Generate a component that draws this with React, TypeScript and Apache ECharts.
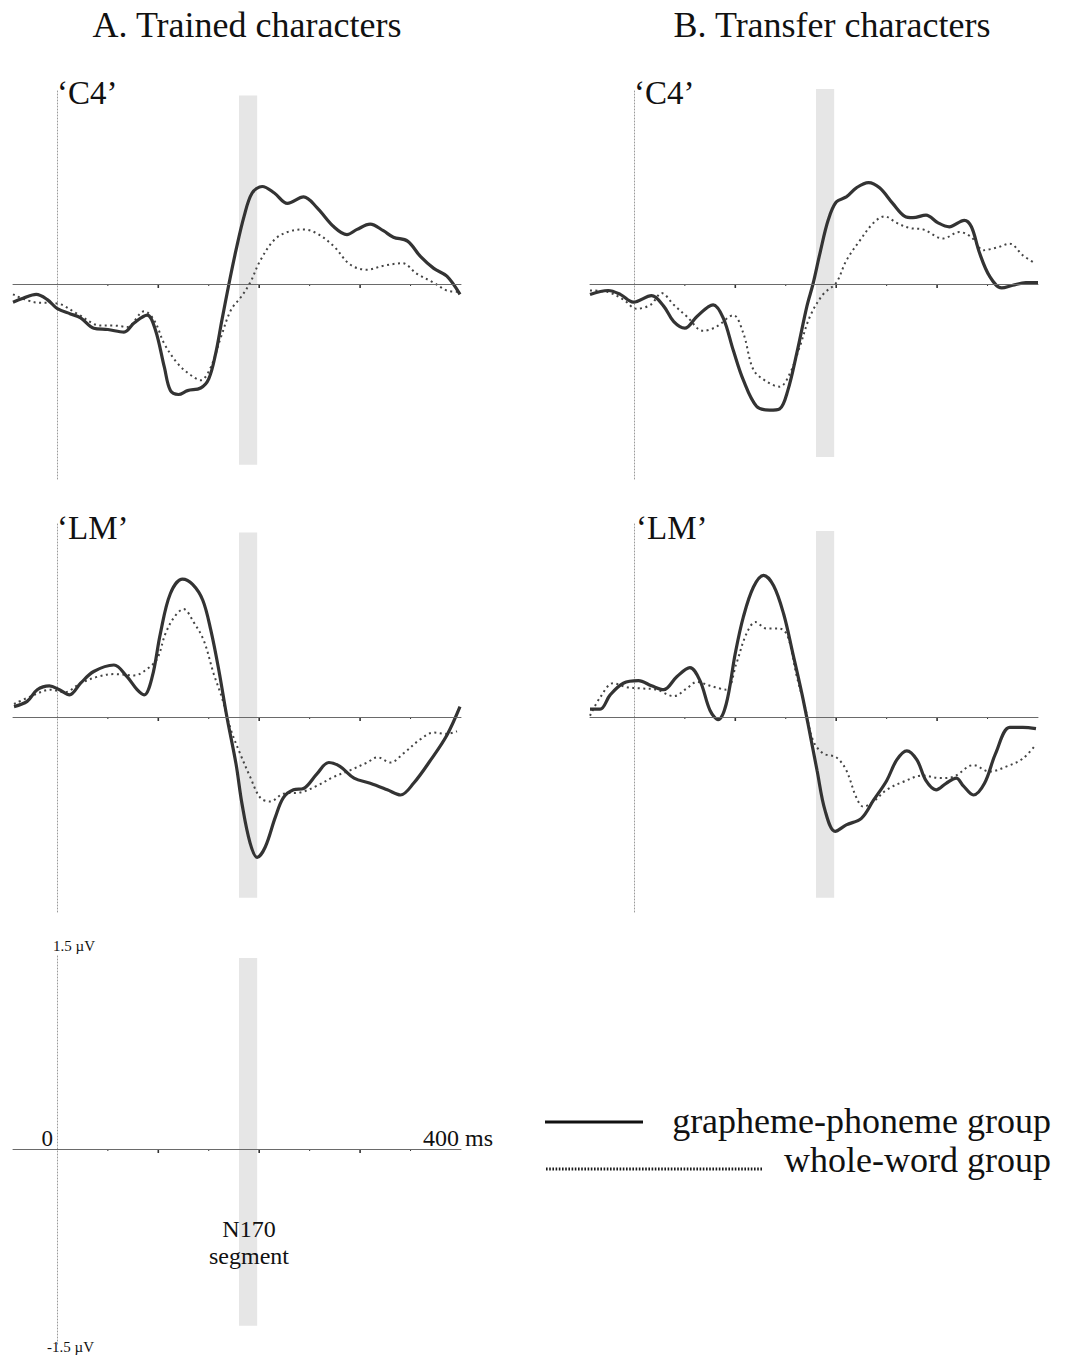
import React, { useEffect, useRef } from "react";
import * as echarts from "echarts";

// ---- data (time in ms, amplitude in µV) ----
const c4TrainedGraphemePhoneme: [number, number][] = [
  [-44, -0.14], [-34, -0.11], [-21, -0.08], [-10, -0.12], [0, -0.19], [13, -0.23], [23, -0.26], [36, -0.34],
  [50, -0.35], [66, -0.37], [76, -0.3], [89, -0.24], [97, -0.35], [106, -0.64], [112, -0.82], [120, -0.85],
  [129, -0.82], [142, -0.8], [150, -0.73], [157, -0.53], [163, -0.28], [170, 0], [177, 0.26], [185, 0.52],
  [193, 0.7], [203, 0.75], [215, 0.7], [228, 0.62], [244, 0.67], [257, 0.59], [274, 0.44], [287, 0.38],
  [297, 0.42], [310, 0.46], [323, 0.41], [333, 0.36], [347, 0.33], [360, 0.21], [373, 0.12], [386, 0.06], [399, -0.08],
];
const c4TrainedWholeWord: [number, number][] = [
  [-44, -0.08], [-23, -0.14], [0, -0.15], [20, -0.23], [43, -0.32], [56, -0.32], [69, -0.33], [86, -0.21],
  [96, -0.28], [106, -0.46], [119, -0.61], [132, -0.7], [142, -0.74], [152, -0.64], [162, -0.41], [172, -0.2],
  [182, -0.1], [191, 0.01], [201, 0.18], [215, 0.34], [228, 0.4], [244, 0.42], [257, 0.39], [274, 0.29],
  [290, 0.15], [307, 0.11], [323, 0.14], [342, 0.16], [356, 0.08], [373, 0.01], [386, -0.05], [398, -0.06],
];
const c4TransferGraphemePhoneme: [number, number][] = [
  [-44, -0.08], [-26, -0.05], [-14, -0.08], [-1, -0.14], [17, -0.09], [29, -0.17], [39, -0.29], [50, -0.34],
  [62, -0.25], [78, -0.16], [88, -0.26], [98, -0.51], [108, -0.74], [121, -0.94], [134, -0.97], [144, -0.96],
  [152, -0.82], [161, -0.53], [171, -0.17], [177, 0], [184, 0.24], [192, 0.49], [200, 0.63], [210, 0.67],
  [220, 0.74], [232, 0.78], [243, 0.74], [256, 0.62], [268, 0.52], [276, 0.51], [289, 0.53], [301, 0.47],
  [312, 0.44], [327, 0.49], [334, 0.44], [342, 0.24], [352, 0.06], [364, -0.03], [375, -0.01], [388, 0.01], [400, 0.01],
];
const c4TransferWholeWord: [number, number][] = [
  [-44, -0.05], [-27, -0.06], [-11, -0.12], [2, -0.19], [16, -0.16], [27, -0.07], [39, -0.16], [52, -0.25],
  [68, -0.36], [81, -0.33], [98, -0.24], [108, -0.38], [118, -0.66], [131, -0.75], [144, -0.79], [154, -0.69],
  [164, -0.48], [174, -0.25], [187, -0.08], [200, 0.01], [210, 0.18], [223, 0.33], [237, 0.47], [248, 0.52],
  [260, 0.47], [273, 0.43], [286, 0.42], [306, 0.35], [322, 0.4], [334, 0.36], [346, 0.26], [359, 0.28],
  [372, 0.31], [385, 0.22], [397, 0.16],
];
const lmTrainedGraphemePhoneme: [number, number][] = [
  [-43, 0.08], [-30, 0.12], [-20, 0.21], [-8, 0.24], [2, 0.21], [12, 0.17], [23, 0.26], [36, 0.35],
  [56, 0.4], [69, 0.31], [79, 0.21], [86, 0.17], [94, 0.31], [102, 0.64], [112, 0.95], [124, 1.06],
  [134, 1.02], [144, 0.9], [152, 0.67], [160, 0.36], [168, 0], [177, -0.36], [183, -0.67], [191, -0.97],
  [198, -1.08], [206, -1.0], [216, -0.77], [224, -0.62], [234, -0.56], [244, -0.55], [257, -0.44], [269, -0.35],
  [280, -0.38], [294, -0.47], [310, -0.51], [327, -0.56], [340, -0.6], [353, -0.51], [370, -0.33], [386, -0.14], [399, 0.08],
];
const lmTrainedWholeWord: [number, number][] = [
  [-43, 0.1], [-23, 0.17], [-7, 0.21], [7, 0.19], [23, 0.26], [40, 0.31], [56, 0.33], [76, 0.32],
  [89, 0.37], [99, 0.45], [107, 0.64], [116, 0.77], [125, 0.83], [135, 0.73], [145, 0.59], [155, 0.33],
  [163, 0.15], [172, -0.1], [181, -0.28], [191, -0.46], [201, -0.62], [211, -0.65], [224, -0.59], [241, -0.58],
  [257, -0.53], [274, -0.46], [290, -0.41], [307, -0.35], [317, -0.31], [330, -0.35], [343, -0.28], [360, -0.17],
  [373, -0.12], [386, -0.13], [396, -0.11],
];
const lmTransferGraphemePhoneme: [number, number][] = [
  [-44, 0.06], [-34, 0.06], [-24, 0.17], [-11, 0.26], [4, 0.28], [17, 0.24], [29, 0.21], [42, 0.31],
  [55, 0.38], [65, 0.28], [75, 0.05], [83, -0.02], [91, 0.1], [100, 0.49], [108, 0.77], [118, 1.0],
  [128, 1.09], [138, 1.01], [148, 0.79], [157, 0.49], [166, 0.18], [172, -0.05], [181, -0.41], [189, -0.72],
  [199, -0.88], [210, -0.83], [225, -0.78], [237, -0.64], [250, -0.49], [260, -0.33], [270, -0.26], [280, -0.33],
  [289, -0.49], [299, -0.56], [309, -0.51], [319, -0.47], [326, -0.53], [336, -0.6], [347, -0.51], [358, -0.28],
  [372, -0.08], [385, -0.08], [398, -0.09],
];
const lmTransferWholeWord: [number, number][] = [
  [-44, 0.01], [-34, 0.15], [-21, 0.26], [-8, 0.23], [6, 0.22], [22, 0.21], [39, 0.16], [52, 0.22],
  [62, 0.27], [75, 0.24], [91, 0.21], [101, 0.41], [111, 0.64], [120, 0.73], [131, 0.68], [144, 0.68],
  [152, 0.62], [161, 0.31], [169, 0.08], [177, -0.18], [187, -0.28], [200, -0.31], [210, -0.41], [220, -0.62],
  [227, -0.69], [237, -0.65], [250, -0.56], [266, -0.5], [286, -0.45], [303, -0.47], [316, -0.46], [336, -0.37],
  [352, -0.42], [369, -0.38], [385, -0.32], [398, -0.21],
];

const timeRange = [-44, 400];
const ampRange = [-1.5, 1.5];
const n170Segment = [180, 198];
const majorTicks = [100, 200, 300];
const minorTicks = [50, 150, 250, 350];
const panelLabels = ["\u2018C4\u2019", "\u2018C4\u2019", "\u2018LM\u2019", "\u2018LM\u2019"];
const columnTitles = ["A. Trained characters", "B. Transfer characters"];
const legendNames = ["grapheme-phoneme group", "whole-word group"];

const SERIF = "'Liberation Serif', 'Times New Roman', Times, serif";

type Panel = {
  left: number;
  top: number;
  bandTop: number;
  bandBottom: number;
  solid?: [number, number][];
  dotted?: [number, number][];
};

const panels: Panel[] = [
  { left: 13, top: 89, bandTop: 1.45, bandBottom: -1.39, solid: c4TrainedGraphemePhoneme, dotted: c4TrainedWholeWord },
  { left: 590, top: 89, bandTop: 1.51, bandBottom: -1.33, solid: c4TransferGraphemePhoneme, dotted: c4TransferWholeWord },
  { left: 13, top: 522, bandTop: 1.42, bandBottom: -1.39, solid: lmTrainedGraphemePhoneme, dotted: lmTrainedWholeWord },
  { left: 590, top: 522, bandTop: 1.43, bandBottom: -1.39, solid: lmTransferGraphemePhoneme, dotted: lmTransferWholeWord },
  { left: 13, top: 954, bandTop: 1.47, bandBottom: -1.36 },
];

function buildOption() {
  const grid: any[] = [];
  const xAxis: any[] = [];
  const yAxis: any[] = [];
  const series: any[] = [];
  const tickData = [
    ...minorTicks.map((t) => [t, 0, 0]),
    ...majorTicks.map((t) => [t, 0, 1]),
  ];

  panels.forEach((p, i) => {
    grid.push({ left: p.left, top: p.top, width: 448, height: 390, containLabel: false });
    xAxis.push({
      gridIndex: i,
      type: "value",
      min: timeRange[0],
      max: timeRange[1],
      z: 5,
      axisLine: { show: true, onZero: true, lineStyle: { color: "#6a6a6a", width: 1 } },
      axisTick: { show: false },
      axisLabel: { show: false },
      splitLine: { show: false },
    });
    yAxis.push({
      gridIndex: i,
      type: "value",
      min: ampRange[0],
      max: ampRange[1],
      axisLine: { show: true, onZero: true, lineStyle: { color: "#9a9a9a", width: 1, type: [1, 2] } },
      axisTick: { show: false },
      axisLabel: { show: false },
      splitLine: { show: false },
    });
    series.push({
      type: "custom",
      xAxisIndex: i,
      yAxisIndex: i,
      z: 1,
      silent: true,
      data: tickData,
      renderItem: (params: any, api: any) => {
        const pt = api.coord([api.value(0), 0]);
        const major = api.value(2) === 1;
        return {
          type: "line",
          shape: { x1: pt[0], y1: pt[1], x2: pt[0], y2: pt[1] + (major ? 4 : 2) },
          style: { stroke: "#333", lineWidth: major ? 1.6 : 1 },
        };
      },
      markArea: {
        silent: true,
        itemStyle: { color: "#e6e6e6", opacity: 1 },
        data: [[{ xAxis: n170Segment[0], yAxis: p.bandTop }, { xAxis: n170Segment[1], yAxis: p.bandBottom }]],
      },
    });
    if (p.solid) {
      series.push({
        type: "line",
        name: legendNames[0],
        xAxisIndex: i,
        yAxisIndex: i,
        data: p.solid,
        symbol: "none",
        smooth: 0.35,
        z: 4,
        lineStyle: { color: "#333333", width: 3.2 },
      });
    }
    if (p.dotted) {
      series.push({
        type: "line",
        name: legendNames[1],
        xAxisIndex: i,
        yAxisIndex: i,
        data: p.dotted,
        symbol: "none",
        smooth: 0.35,
        z: 3,
        lineStyle: { color: "#444444", width: 2, type: [2, 3.5] },
      });
    }
  });

  const txt = (text: string, x: number, y: number, size: number, align: string) => ({
    type: "text",
    x,
    y,
    z: 100,
    silent: true,
    style: {
      text,
      font: `${size}px ${SERIF}`,
      fill: "#111",
      align,
      verticalAlign: "middle",
      textAlign: align,
      textVerticalAlign: "middle",
    },
  });

  const graphic: any[] = [
    txt(columnTitles[0], 247, 25, 36, "center"),
    txt(columnTitles[1], 832, 25, 36, "center"),
    txt(panelLabels[0], 57, 93, 33, "left"),
    txt(panelLabels[1], 634, 93, 33, "left"),
    txt(panelLabels[2], 57, 528, 33, "left"),
    txt(panelLabels[3], 636, 528, 33, "left"),
    txt("1.5 \u00b5V", 53, 946, 15, "left"),
    txt("-1.5 \u00b5V", 47, 1347, 15, "left"),
    txt("0", 53, 1138, 23, "right"),
    txt("400 ms", 423, 1138, 24, "left"),
    txt("N170", 249, 1229, 24, "center"),
    txt("segment", 249, 1256, 24, "center"),
    txt(legendNames[0], 1051, 1121, 36, "right"),
    txt(legendNames[1], 1051, 1160, 36, "right"),
    {
      type: "line",
      z: 100,
      silent: true,
      shape: { x1: 545, y1: 1122, x2: 643, y2: 1122 },
      style: { stroke: "#111", lineWidth: 3 },
    },
    {
      type: "line",
      z: 100,
      silent: true,
      shape: { x1: 546, y1: 1169, x2: 762, y2: 1169 },
      style: { stroke: "#1a1a1a", lineWidth: 3, lineDash: [1.6, 1.6] },
    },
  ];

  return {
    animation: false,
    backgroundColor: "#ffffff",
    grid,
    xAxis,
    yAxis,
    series,
    graphic,
  };
}

export default function App() {
  const ref = useRef<HTMLDivElement>(null);
  useEffect(() => {
    if (!ref.current) return;
    const chart = echarts.init(ref.current, undefined, { renderer: "svg" });
    chart.setOption(buildOption());
    return () => chart.dispose();
  }, []);
  return (
    <div
      ref={ref}
      style={{ position: "absolute", left: 0, top: 0, width: 1065, height: 1359, background: "#fff" }}
    />
  );
}
